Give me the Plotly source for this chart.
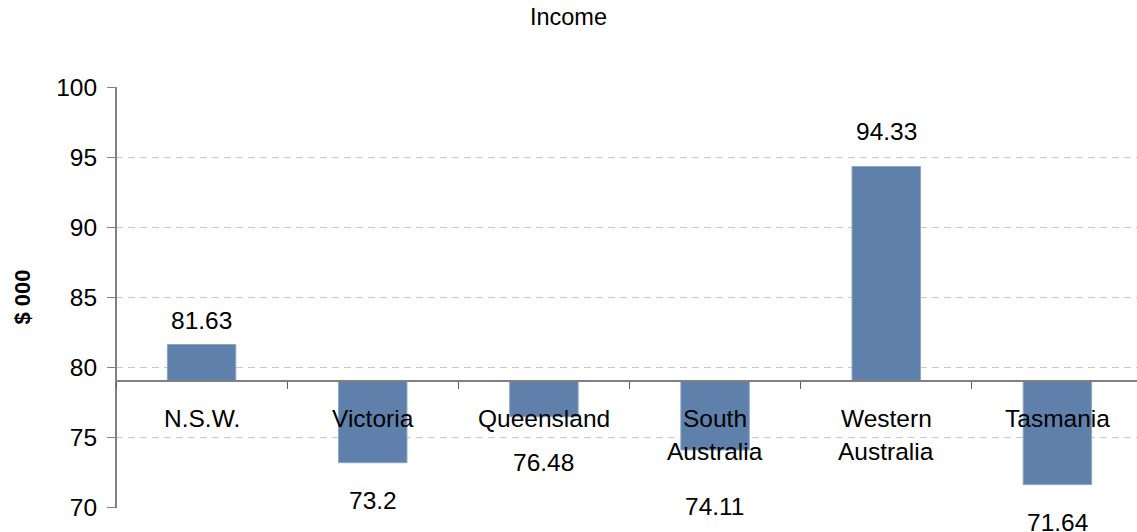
import plotly.graph_objects as go

# ---- data ----
categories = ["N.S.W.", "Victoria", "Queensland", "South Australia", "Western Australia", "Tasmania"]
category_lines = [["N.S.W."], ["Victoria"], ["Queensland"], ["South", "Australia"], ["Western", "Australia"], ["Tasmania"]]
income = [81.63, 73.2, 76.48, 74.11, 94.33, 71.64]
income_text = ["81.63", "73.2", "76.48", "74.11", "94.33", "71.64"]
base_value = 79
y_ticks = [70, 75, 80, 85, 90, 95, 100]

# ---- style ----
label_shift = [24, -38, -46, -57, 35, -38]
FONT = "Liberation Sans, Arial, sans-serif"
BAR = "#5f80aa"
Y_MIN, Y_MAX = 69.97, 100

fig = go.Figure()
fig.add_trace(go.Bar(
    x=categories,
    y=[v - base_value for v in income],
    base=base_value,
    width=0.4,
    marker=dict(color=BAR, line=dict(color="#8fa7c6", width=1)),
    hoverinfo="skip",
))

ann = []
for c, v, t, s in zip(categories, income, income_text, label_shift):
    ann.append(dict(x=c, y=v, xref="x", yref="y", text=t, showarrow=False,
                    yshift=s, yanchor="middle", font=dict(size=24.5, color="#000", family=FONT)))
for c, lines in zip(categories, category_lines):
    for i, ln in enumerate(lines):
        ann.append(dict(x=c, y=base_value, xref="x", yref="y", text=ln, showarrow=False,
                        yshift=-37 - 33 * i, yanchor="middle",
                        font=dict(size=24.5, color="#000", family=FONT)))
ann.append(dict(x=0, y=0.5, xref="paper", yref="paper", text="<b>$ 000</b>", textangle=-90,
                showarrow=False, xshift=-94, xanchor="center", yanchor="middle",
                font=dict(size=22, color="#000", family=FONT)))

fig.update_layout(
    width=1137, height=532,
    margin=dict(l=116, r=0, t=87, b=24),
    paper_bgcolor="white", plot_bgcolor="white",
    showlegend=False,
    title=dict(text="Income", x=0.5, xref="container", y=1 - 17 / 532, yref="container",
               xanchor="center", yanchor="middle", font=dict(size=23.5, color="#000", family=FONT)),
    annotations=ann,
    xaxis=dict(
        type="category", categoryorder="array", categoryarray=categories,
        range=[-0.5, 5.465], anchor="free", position=(base_value - Y_MIN) / (Y_MAX - Y_MIN),
        showline=True, linecolor="#808080", linewidth=2,
        ticks="outside", tickson="boundaries", ticklen=7, tickcolor="#606060", tickwidth=1,
        showticklabels=False, showgrid=False, zeroline=False,
    ),
    yaxis=dict(
        range=[Y_MIN, Y_MAX], tickvals=y_ticks, anchor="free", position=0,
        showline=True, linecolor="#808080", linewidth=2,
        ticks="outside", ticklen=8, tickcolor="#808080", tickwidth=1,
        ticklabelstandoff=5,
        tickfont=dict(size=24.5, color="#000", family=FONT),
        showgrid=True, gridcolor="#c8c8c8", gridwidth=1, griddash="7px,5px",
        zeroline=False,
    ),
)

fig.write_html("out.html")
